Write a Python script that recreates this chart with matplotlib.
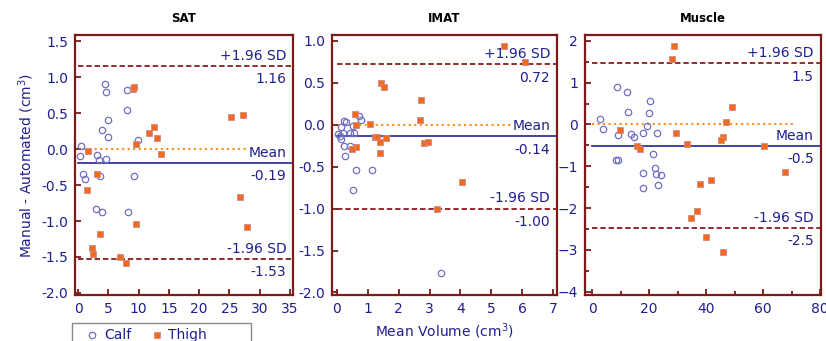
import numpy as np
import matplotlib
matplotlib.use('Agg')
import matplotlib.pyplot as plt
from matplotlib.lines import Line2D
from matplotlib.patches import Rectangle
from matplotlib.ticker import MultipleLocator, FormatStrFormatter

# ---- data (mean volume, manual - automated) ----
sat_calf_x = [0.45, 0.3, 0.8, 1.1, 4.5, 4.6, 8.1, 8.1, 5.0, 4.0, 5.0, 9.9, 3.1, 3.5,
              4.6, 3.7, 9.2, 3.0, 3.9, 8.2]
sat_calf_y = [0.04, -0.10, -0.34, -0.42, 0.91, 0.80, 0.82, 0.55, 0.41, 0.27, 0.17, 0.13,
              -0.08, -0.15, -0.13, -0.37, -0.37, -0.83, -0.88, -0.87]
sat_thigh_x = [1.6, 1.5, 3.2, 3.7, 2.3, 2.5, 6.9, 7.9, 9.05, 9.3, 9.5, 9.6, 11.8, 12.6,
               13.1, 13.7, 25.3, 27.3, 26.8, 27.9]
sat_thigh_y = [-0.02, -0.57, -0.34, -1.18, -1.38, -1.46, -1.50, -1.59, 0.84, 0.87, 0.07,
               -1.04, 0.22, 0.31, 0.16, -0.07, 0.45, 0.48, -0.67, -1.08]

imat_calf_x = [0.22, 0.29, 0.13, 0.51, 0.70, 0.79, 0.05, 0.19, 0.43, 0.56, 0.13, 0.24,
               0.43, 0.27, 0.63, 1.13, 0.51, 3.38, 0.09]
imat_calf_y = [0.04, 0.03, -0.03, -0.02, 0.10, 0.06, -0.11, -0.10, -0.10, -0.10, -0.17,
               -0.25, -0.25, -0.37, -0.54, -0.54, -0.78, -1.77, -0.13]
imat_thigh_x = [5.42, 6.10, 1.43, 1.52, 2.73, 2.68, 0.57, 0.62, 1.08, 1.24, 1.31, 1.58,
                1.41, 1.41, 2.81, 2.94, 0.63, 0.48, 4.04, 3.24]
imat_thigh_y = [0.94, 0.75, 0.50, 0.45, 0.30, 0.06, 0.13, 0.00, 0.01, -0.15, -0.15, -0.16,
                -0.21, -0.34, -0.22, -0.21, -0.27, -0.29, -0.68, -1.00]

mus_calf_x = [2.9, 3.7, 8.6, 12.3, 12.6, 20.3, 19.9, 9.2, 13.5, 14.8, 17.8, 19.1, 22.9,
              8.3, 9.2, 21.3, 22.1, 22.5, 24.2, 18.0, 23.0, 18.0]
mus_calf_y = [0.13, -0.11, 0.89, 0.78, 0.29, 0.55, 0.28, -0.25, -0.22, -0.30, -0.21, -0.03,
              -0.21, -0.84, -0.84, -0.71, -1.03, -1.19, -1.22, -1.15, -1.46, -1.51]
mus_thigh_x = [28.7, 28.0, 49.2, 47.0, 9.8, 29.4, 15.9, 16.9, 33.2, 45.9, 45.2, 60.3,
               67.5, 37.8, 41.8, 34.6, 36.9, 40.1, 45.8]
mus_thigh_y = [1.87, 1.57, 0.42, 0.07, -0.14, -0.21, -0.51, -0.59, -0.46, -0.29, -0.37,
               -0.51, -1.14, -1.42, -1.32, -2.23, -2.07, -2.70, -3.05]

titles = ['SAT', 'IMAT', 'Muscle']
upper_sd = [1.16, 0.72, 1.46]
mean_diff = [-0.19, -0.14, -0.52]
lower_sd = [-1.53, -1.00, -2.48]
upper_lbl = ['1.16', '0.72', '1.5']
mean_lbl = ['-0.19', '-0.14', '-0.5']
lower_lbl = ['-1.53', '-1.00', '-2.5']
zero_end = [28.0, 5.7, 71.0]

xlims = [(-0.5, 35.5), (-0.16, 7.13), (-2.5, 80.3)]
ylims = [(-2.03, 1.59), (-2.03, 1.07), (-4.08, 2.14)]
xmajor = [5, 1, 20]
ymajor = [0.5, 0.5, 1]

NAVY = '#1f1f8f'
MAROON = '#7d1a1a'
DASH = '#8b1c1c'
ORANGE = '#f26a1b'
CIRC = '#6f6fc4'

fig = plt.figure(figsize=(8.26, 3.41), dpi=100)
W, H = 826, 341
boxes = [(75, 293), (332, 557), (585, 821)]
top_px, bot_px = 35, 295

data = [(sat_calf_x, sat_calf_y, sat_thigh_x, sat_thigh_y),
        (imat_calf_x, imat_calf_y, imat_thigh_x, imat_thigh_y),
        (mus_calf_x, mus_calf_y, mus_thigh_x, mus_thigh_y)]

for i in range(3):
    l, r = boxes[i]
    ax = fig.add_axes([l / W, (H - bot_px) / H, (r - l) / W, (bot_px - top_px) / H])
    cx, cy, tx, ty = data[i]
    x0, x1 = xlims[i]

    # reference lines
    ax.plot([0, zero_end[i]], [0, 0], color='#ff8c1a', linestyle=':', lw=1.5, zorder=1)
    ax.plot([0, x1], [mean_diff[i]] * 2, color='#3434a0', lw=1.3, zorder=1)
    for v in (upper_sd[i], lower_sd[i]):
        ax.plot([0, x1], [v, v], color=DASH, lw=1.3, dashes=(3, 1.6), zorder=1)

    # labels with white background (they hide the lines behind them)
    span = ylims[i][1] - ylims[i][0]
    dy = span * 0.012
    xt = x1 - (x1 - x0) * 0.03
    kw = dict(ha='right', color=NAVY, fontsize=10, zorder=2,
              bbox=dict(facecolor='white', edgecolor='none', pad=0.5))
    ax.text(xt, upper_sd[i] + dy, '+1.96 SD', va='bottom', **kw)
    ax.text(xt, upper_sd[i] - dy * 2, upper_lbl[i], va='top', **kw)
    ax.text(xt, mean_diff[i] + dy, 'Mean', va='bottom', **kw)
    ax.text(xt, mean_diff[i] - dy * 2, mean_lbl[i], va='top', **kw)
    ax.text(xt, lower_sd[i] + dy, '-1.96 SD', va='bottom', **kw)
    ax.text(xt, lower_sd[i] - dy * 2, lower_lbl[i], va='top', **kw)

    ax.plot(cx, cy, 'o', ms=4.6, mfc='none', mec=CIRC, mew=0.9, ls='none', zorder=3)
    ax.plot(tx, ty, 's', ms=4.8, mfc=ORANGE, mec='#d08a8a', mew=0.6, ls='none', zorder=3)

    ax.set_xlim(*xlims[i])
    ax.set_ylim(*ylims[i])
    ax.xaxis.set_major_locator(MultipleLocator(xmajor[i]))
    ax.yaxis.set_major_locator(MultipleLocator(ymajor[i]))
    if i < 2:
        ax.yaxis.set_major_formatter(FormatStrFormatter('%.1f'))
    else:
        ax.xaxis.set_minor_locator(MultipleLocator(10))
        ax.yaxis.set_minor_locator(MultipleLocator(0.5))

    for sp in ax.spines.values():
        sp.set_color(MAROON)
        sp.set_linewidth(1.6)
    ax.tick_params(which='both', direction='in', color=MAROON, width=1.3,
                   labelcolor=NAVY, labelsize=10, top=False, right=False)
    ax.tick_params(which='major', length=4, pad=5)
    ax.tick_params(which='minor', length=3)

    ax.set_title(titles[i], fontsize=8.5, fontweight='bold', pad=9)
    if i == 0:
        ax.set_ylabel('Manual - Automated (cm$^3$)', color=NAVY, fontsize=10, labelpad=4)
    if i == 1:
        ax.set_xlabel('Mean Volume (cm$^3$)', color=NAVY, fontsize=10, labelpad=4)

# legend box, cut off by the bottom edge as in the original
fig.patches.append(Rectangle((72 / W, -0.02), (251 - 72) / W, (0.02 + 1 - 323 / H),
                             transform=fig.transFigure, facecolor='white',
                             edgecolor='#8a8a8a', lw=1.0))
ly = 1 - 335 / H
fig.add_artist(Line2D([92 / W], [ly], marker='o', ls='none', ms=4.6, mfc='none',
                      mec=CIRC, mew=0.9, transform=fig.transFigure))
fig.add_artist(Line2D([157 / W], [ly], marker='s', ls='none', ms=4.8, mfc=ORANGE,
                      mec='#d08a8a', mew=0.6, transform=fig.transFigure))
fig.text(104 / W, ly, 'Calf', color=NAVY, fontsize=10, va='center')
fig.text(168 / W, ly, 'Thigh', color=NAVY, fontsize=10, va='center')

fig.savefig('out.png', dpi=100)
